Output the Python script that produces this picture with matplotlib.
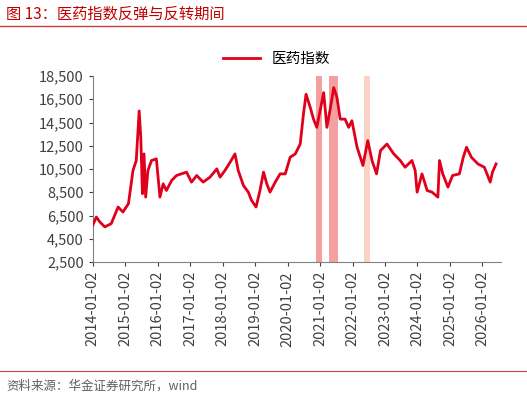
import matplotlib
matplotlib.use("Agg")
import matplotlib.pyplot as plt
import pandas as pd
import numpy as np

plt.rcParams['font.family'] = ['Noto Sans CJK SC', 'DejaVu Sans']

t_years = [2014.0,2014.11,2014.22,2014.37,2014.57,2014.78,2014.93,2015.1,2015.24,2015.34,2015.43,2015.48,2015.53,2015.58,2015.63,2015.7,2015.81,2015.96,
           2016.07,2016.17,2016.27,2016.43,2016.58,2016.89,2017.04,2017.2,2017.4,2017.61,2017.82,2017.92,2018.07,2018.23,2018.38,2018.48,2018.64,2018.79,
           2018.89,2019.03,2019.15,2019.26,2019.36,2019.46,2019.62,2019.77,2019.93,2020.08,2020.24,2020.39,2020.49,2020.57,2020.7,2020.8,2020.9,2021.0,
           2021.11,2021.21,2021.32,2021.42,2021.52,2021.62,2021.77,2021.88,2021.98,2022.14,2022.24,2022.32,2022.47,2022.6,2022.74,2022.86,2023.06,2023.27,
           2023.47,2023.62,2023.83,2023.93,2023.99,2024.14,2024.3,2024.45,2024.63,2024.68,2024.78,2024.94,2025.08,2025.29,2025.41,2025.51,2025.66,2025.86,
           2026.06,2026.24,2026.31,2026.42]
values = [5660,6370,5940,5520,5800,7230,6800,7520,10370,11230,15500,13220,8370,11800,8080,10370,11230,11370,
          8080,9230,8650,9510,9940,10230,9370,9940,9370,9800,10510,9800,10370,11080,11800,10370,9080,8510,
          7800,7230,8650,10230,9230,8510,9370,10080,10080,11510,11800,12650,15220,16930,15790,14790,14080,15500,
          17070,14080,15790,17500,16650,14790,14790,14080,14650,12370,11510,10800,12940,11230,10080,12080,12650,11800,
          11230,10650,11230,10370,8510,10080,8650,8510,8080,11230,10080,8940,9940,10080,11510,12370,11510,10940,
          10650,9370,10230,10940]
series_name = "医药指数"
shade_spans = [("2020-11-20", "2021-01-20"), ("2021-04-10", "2021-07-20"), ("2022-05-10", "2022-07-15")]
shade_colors = ["#f4a0a0", "#f4a0a0", "#fbd3c4"]

def to_date(y):
    yi = int(np.floor(y))
    return pd.Timestamp(f"{yi}-01-02") + pd.to_timedelta((y - yi) * 365.25, unit="D")
dates = [to_date(y) for y in t_years]

fig = plt.figure(figsize=(5.27, 4.0), dpi=100)
ax = fig.add_axes([0.176, 0.345, 0.775, 0.465])
for (a, b), c in zip(shade_spans, shade_colors):
    ax.axvspan(pd.Timestamp(a), pd.Timestamp(b), color=c, lw=0, zorder=1)
ax.plot(dates, values, color="#e0001b", lw=2.0, label=series_name, zorder=3)
ax.set_ylim(2500, 18500)
ax.set_yticks(range(2500, 18501, 2000))
ax.set_yticklabels([f"{v:,}" for v in range(2500, 18501, 2000)], fontsize=10.5)
ticks = [pd.Timestamp(f"{y}-01-02") for y in range(2014, 2027)]
ax.set_xticks(ticks)
ax.set_xticklabels([t.strftime("%Y-%m-%d") for t in ticks], rotation=90, fontsize=10.5)
ax.set_xlim(pd.Timestamp("2014-01-02"), pd.Timestamp("2026-08-01"))
for s in ["top", "right"]:
    ax.spines[s].set_visible(False)
for s in ["left", "bottom"]:
    ax.spines[s].set_color("#808080")
ax.tick_params(colors="#404040", length=3)
ax.legend(loc="upper center", bbox_to_anchor=(0.45, 1.2), frameon=False, fontsize=10.5, handlelength=2.5)

fig.text(0.012, 0.965, "图 13：医药指数反弹与反转期间", color="#c00000", fontsize=11, va="center")
fig.add_artist(plt.Line2D([0.0, 1.0], [0.935, 0.935], color="#d04040", lw=1, transform=fig.transFigure))
fig.add_artist(plt.Line2D([0.0, 1.0], [0.073, 0.073], color="#d04040", lw=0.8, transform=fig.transFigure))
fig.text(0.012, 0.035, "资料来源：华金证券研究所，wind", color="#606060", fontsize=9, style="italic", va="center")
fig.savefig("out.png", dpi=100)
